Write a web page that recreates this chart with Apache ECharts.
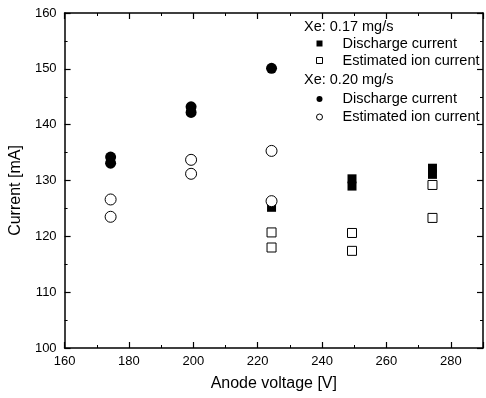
<!DOCTYPE html>
<html>
<head>
<meta charset="utf-8">
<script src="https://cdn.jsdelivr.net/npm/echarts@6/dist/echarts.min.js"></script>
<style>
  html, body { margin: 0; padding: 0; background: #fff; }
  #demo { width: 486px; height: 398px; }
</style>
</head>
<body>
<div id="demo"></div>
<script>
// 数据：从图上读出来的点
var voltage017Dis = [224.3, 249.3, 249.3, 274.3, 274.3];
var current017Dis = [125.2, 130.3, 129.0, 132.2, 131.1];
var voltage017Ion = [224.3, 224.3, 249.3, 249.3, 274.3, 274.3];
var current017Ion = [120.7, 118.0, 120.6, 117.4, 129.2, 123.3];
var voltage020Dis = [174.3, 174.3, 199.3, 199.3, 224.3];
var current020Dis = [134.2, 133.1, 143.2, 142.2, 150.1];
var voltage020Ion = [174.3, 174.3, 199.3, 199.3, 224.3, 224.3];
var current020Ion = [126.6, 123.5, 133.7, 131.2, 135.3, 126.3];
var xTicks = [160, 180, 200, 220, 240, 260, 280];
var yTicks = [100, 110, 120, 130, 140, 150, 160];
var headers = ['Xe: 0.17 mg/s', 'Xe: 0.20 mg/s'];

function pairs(xs, ys) {
    var out = [];
    for (var i = 0; i < xs.length; i++) {
        out.push([xs[i], ys[i]]);
    }
    return out;
}

var font = 'Liberation Sans, Arial, sans-serif';
var chartDom = document.getElementById('demo');
var myChart = echarts.init(chartDom);
var option;

var axisCommon = {
    axisLine: { show: true, lineStyle: { color: '#000', width: 1.5 } },
    axisTick: { show: true, inside: true, length: 6, lineStyle: { color: '#000', width: 1.2 } },
    minorTick: { show: true, splitNumber: 2, length: 3, lineStyle: { color: '#000', width: 1 } },
    splitLine: { show: false }
};

var filled = { color: '#000', opacity: 1 };
var hollow = { color: '#fff', borderColor: '#000', borderWidth: 1, opacity: 1 };

// 图例：每一组单独一个legend，标题用graphic文字
var legendCommon = {
    orient: 'vertical', left: 316, padding: 0,
    itemWidth: 6, itemHeight: 6, itemGap: 0,
    selectedMode: false
};

option = {
    animation: false,
    backgroundColor: '#fff',
    grid: { left: 62, top: 13, width: 426, height: 335 },
    xAxis: [
        Object.assign({
            type: 'value', min: xTicks[0], max: 290, interval: 20,
            name: 'Anode voltage [V]', nameLocation: 'middle', nameGap: 28,
            nameTextStyle: { fontFamily: font, fontSize: 16, color: '#000' },
            axisLabel: { fontFamily: font, fontSize: 13, color: '#000', margin: 7,
                formatter: function (v) { return xTicks.indexOf(v) >= 0 ? v : ''; } }
        }, axisCommon),
        Object.assign({
            type: 'value', min: xTicks[0], max: 290, interval: 20, position: 'top',
            axisLabel: { show: false }
        }, axisCommon)
    ],
    yAxis: [
        Object.assign({
            type: 'value', min: yTicks[0], max: yTicks[yTicks.length - 1], interval: 10,
            name: 'Current [mA]', nameLocation: 'middle', nameGap: 32,
            nameTextStyle: { fontFamily: font, fontSize: 16, color: '#000', padding: [0, 20, 0, 0] },
            axisLabel: { fontFamily: font, fontSize: 13, color: '#000', margin: 8 }
        }, axisCommon),
        Object.assign({
            type: 'value', min: 100, max: 160, interval: 10, position: 'right',
            axisLabel: { show: false }
        }, axisCommon)
    ],
    legend: [
        Object.assign({
            top: 35,
            data: [
                { name: 'Discharge current ', icon: 'rect', itemStyle: filled },
                { name: 'Estimated ion current ', icon: 'rect', itemStyle: hollow }
            ],
            textStyle: { fontFamily: font, fontSize: 14.5, color: '#000', lineHeight: 17, padding: [0, 0, 0, 15] }
        }, legendCommon),
        Object.assign({
            top: 90,
            data: [
                { name: 'Discharge current', icon: 'circle', itemStyle: filled },
                { name: 'Estimated ion current', icon: 'circle', itemStyle: hollow }
            ],
            textStyle: { fontFamily: font, fontSize: 14.5, color: '#000', lineHeight: 18, padding: [0, 0, 0, 15] }
        }, legendCommon)
    ],
    graphic: [
        { type: 'text', left: 304, top: 19, style: { text: headers[0], font: '14.5px ' + font, fill: '#000' } },
        { type: 'text', left: 304, top: 72, style: { text: headers[1], font: '14.5px ' + font, fill: '#000' } }
    ],
    series: [
        {
            name: 'Discharge current ', type: 'scatter', symbol: 'rect', symbolSize: 9,
            itemStyle: filled,
            data: pairs(voltage017Dis, current017Dis)
        },
        {
            name: 'Estimated ion current ', type: 'scatter', symbol: 'rect', symbolSize: 9,
            itemStyle: hollow,
            data: pairs(voltage017Ion, current017Ion)
        },
        {
            name: 'Discharge current', type: 'scatter', symbol: 'circle', symbolSize: 11,
            itemStyle: filled,
            data: pairs(voltage020Dis, current020Dis)
        },
        {
            name: 'Estimated ion current', type: 'scatter', symbol: 'circle', symbolSize: 11,
            itemStyle: hollow,
            data: pairs(voltage020Ion, current020Ion)
        }
    ]
};
option && myChart.setOption(option);
</script>
</body>
</html>
